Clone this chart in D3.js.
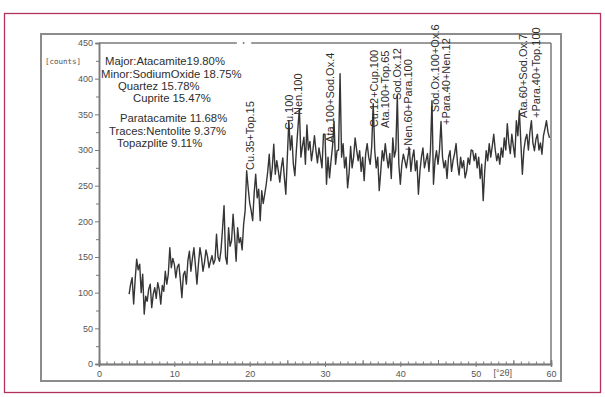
<!DOCTYPE html>
<html>
<head>
<meta charset="utf-8">
<script src="https://cdn.jsdelivr.net/npm/d3@7"></script>
<style>
  html, body { margin: 0; padding: 0; background: #fff; }
  svg { display: block; }
</style>
</head>
<body>
<svg id="chart" width="605" height="397"></svg>
<script>
// Scan grid of the diffractogram (°2θ)
const startAngle = 4.0;
const stepSize = 0.2;

// Measured intensities [counts], one per step from 4.0 °2θ
const counts = [
  98, 112, 121, 84, 118, 147, 132, 140, 100, 126,
  70, 95, 88, 105, 112, 79, 98, 107, 92, 114,
  104, 84, 110, 102, 130, 112, 126, 163, 135, 148,
  140, 121, 136, 140, 118, 93, 125, 130, 112, 145,
  158, 130, 148, 163, 138, 112, 140, 163, 150, 130,
  142, 160, 151, 135, 144, 152, 140, 146, 182, 150,
  144, 160, 190, 222, 150, 140, 191, 165, 173, 210,
  180, 144, 191, 170, 177, 160, 196, 215, 271, 247,
  226, 215, 201, 240, 266, 233, 245, 201, 243, 225,
  238, 252, 270, 294, 257, 275, 308, 266, 285, 271,
  255, 275, 289, 262, 238, 290, 341, 300, 320, 280,
  264, 300, 330, 358, 290, 305, 318, 280, 335, 300,
  312, 285, 300, 320, 299, 282, 303, 290, 275, 322,
  322, 252, 290, 261, 285, 305, 340, 280, 299, 300,
  407, 290, 309, 275, 290, 247, 268, 305, 275, 290,
  317, 300, 285, 299, 270, 290, 257, 295, 309, 290,
  280, 305, 365, 300, 275, 290, 243, 270, 299, 285,
  309, 290, 275, 295, 260, 317, 290, 300, 376, 280,
  252, 280, 294, 285, 275, 290, 303, 270, 289, 300,
  271, 285, 238, 270, 290, 303, 275, 285, 295, 270,
  300, 369, 252, 285, 299, 280, 300, 340, 290, 275,
  285, 260, 290, 299, 270, 285, 295, 309, 280, 265,
  290, 275, 285, 261, 270, 289, 280, 300, 299, 285,
  295, 275, 290, 260, 280, 229, 270, 299, 285, 309,
  290, 305, 322, 300, 285, 295, 280, 303, 290, 317,
  300, 337, 310, 295, 322, 305, 290, 341, 320, 355,
  310, 266, 300, 315, 322, 300, 325, 341, 310, 299,
  315, 322, 300, 310, 294, 320, 330, 341, 325, 317
];

// Axis ticks
const xTicks = [0, 10, 20, 30, 40, 50, 60];
const yTicks = [0, 50, 100, 150, 200, 250, 300, 350, 400, 450];

// Semi-quantitative phase composition
const phaseLines = [
  "Major:Atacamite19.80%",
  "Minor:SodiumOxide 18.75%",
  "Quartez 15.78%",
  "Cuprite 15.47%",
  "Paratacamite 11.68%",
  "Traces:Nentolite 9.37%",
  "Topazplite 9.11%"
];

// Peak identifications: text, position (°2θ), count level where the text starts
const peakLabels = [
  "Cu.35+Top.15", "Cu.100", "Nen.100", "Ata.100+Sod.Ox.4",
  "Cu.12+Cup.100", "Ata.100+Top.65", "Sod.Ox.12", "+Nen.60+Para.100",
  "Sod.Ox.100+Ox.6", "+Para.40+Nen.12", "Ata.60+Sod.Ox.7", "+Para.40+Top.100"
];
const peakAngles = [20.0, 25.2, 26.5, 30.7, 36.5, 38.0, 39.6, 41.1, 44.6, 46.1, 56.3, 58.0];
const peakLabelBase = [272, 328, 349, 310, 332, 331, 370, 297, 353, 335, 345, 345];

const svg = d3.select("#chart");
const plot = { left: 99, right: 551, top: 43, bottom: 364 };
const font = "'Liberation Sans', Arial, sans-serif";

// Page frame and panel frame
svg.append("rect")
  .attr("x", 4.5).attr("y", 13.5).attr("width", 596).attr("height", 379)
  .attr("fill", "none").attr("stroke", "#b2325e").attr("stroke-width", 1.3);
svg.append("rect")
  .attr("x", 41).attr("y", 34).attr("width", 520).attr("height", 347)
  .attr("fill", "none").attr("stroke", "#8c8c8c").attr("stroke-width", 2);

const x = d3.scaleLinear().domain([0, 60]).range([plot.left, plot.right]);
const y = d3.scaleLinear().domain([0, 450]).range([plot.bottom, plot.top]);

const axisColor = "#7a7a7a";
const labelColor = "#555";

// Plot border: top edge has a short break with a marker
const g = svg.append("g");
g.append("line").attr("x1", plot.right).attr("x2", plot.right)
  .attr("y1", plot.top).attr("y2", plot.bottom)
  .attr("stroke", axisColor).attr("stroke-width", 1.5);
g.append("line").attr("x1", x(0)).attr("x2", x(18.3))
  .attr("y1", plot.top).attr("y2", plot.top)
  .attr("stroke", axisColor).attr("stroke-width", 1.5);
g.append("line").attr("x1", x(20.2)).attr("x2", x(60))
  .attr("y1", plot.top).attr("y2", plot.top)
  .attr("stroke", axisColor).attr("stroke-width", 1.5);
g.append("circle").attr("cx", x(19.2)).attr("cy", plot.top).attr("r", 1)
  .attr("fill", axisColor);

// Y axis: labelled ticks every 50, minor ticks in between
svg.append("g")
  .attr("transform", `translate(${plot.left},0)`)
  .call(d3.axisLeft(y).tickValues(yTicks).tickSize(4).tickPadding(2).tickFormat(d3.format("d")));
svg.append("g")
  .attr("transform", `translate(${plot.left},0)`)
  .call(d3.axisLeft(y).tickValues(d3.range(25, 450, 50)).tickSize(3).tickFormat(""));

// X axis: minor ticks every degree, medium every 5°, labels every 10°
svg.append("g")
  .attr("transform", `translate(0,${plot.bottom})`)
  .call(d3.axisBottom(x).tickValues(xTicks).tickSize(3).tickPadding(4).tickFormat(d3.format("d")));
svg.append("g")
  .attr("transform", `translate(0,${plot.bottom})`)
  .call(d3.axisTop(x).tickValues(d3.range(0, 61, 1)).tickSize(2.5).tickFormat(""));
svg.append("g")
  .attr("transform", `translate(0,${plot.bottom})`)
  .call(d3.axisTop(x).tickValues(d3.range(5, 60, 10)).tickSize(4).tickFormat(""));

svg.selectAll(".domain").attr("stroke", axisColor).attr("stroke-width", 1.5);
svg.selectAll(".tick line").attr("stroke", axisColor).attr("stroke-width", 1);
svg.selectAll(".tick text")
  .attr("fill", labelColor).style("font-family", font).style("font-size", "9px");

// Axis unit labels
svg.append("text")
  .attr("x", x(53.6)).attr("y", plot.bottom + 12)
  .attr("text-anchor", "middle")
  .attr("fill", labelColor).style("font-family", font).style("font-size", "9px")
  .text("[°2θ]");
svg.append("text")
  .attr("x", 45).attr("y", 64)
  .attr("fill", labelColor).style("font-family", "'DejaVu Sans Mono', monospace").style("font-size", "7.5px")
  .text("[counts]");

// Diffractogram trace
const line = d3.line()
  .x((d, i) => x(startAngle + i * stepSize))
  .y(d => y(d));
svg.append("path")
  .datum(counts)
  .attr("d", line)
  .attr("fill", "none")
  .attr("stroke", "#353535")
  .attr("stroke-width", 1.4)
  .attr("stroke-linejoin", "round");

// Phase composition block
const phaseX = [105, 101, 118, 133, 120, 109, 117];
const phaseY = [65, 78, 90, 102, 122, 135, 147];
svg.append("g").selectAll("text")
  .data(phaseLines)
  .join("text")
  .attr("x", (d, i) => phaseX[i])
  .attr("y", (d, i) => phaseY[i])
  .attr("fill", "#2e2e2e")
  .style("font-family", font)
  .style("font-size", "11.3px")
  .text(d => d);

// Peak identification labels, written upward
svg.append("g").selectAll("text")
  .data(peakLabels)
  .join("text")
  .attr("transform", (d, i) => `translate(${x(peakAngles[i])},${y(peakLabelBase[i])}) rotate(-90)`)
  .attr("dy", "0.35em")
  .attr("fill", "#2e2e2e")
  .style("font-family", font)
  .style("font-size", "11px")
  .text(d => d);
</script>
</body>
</html>
